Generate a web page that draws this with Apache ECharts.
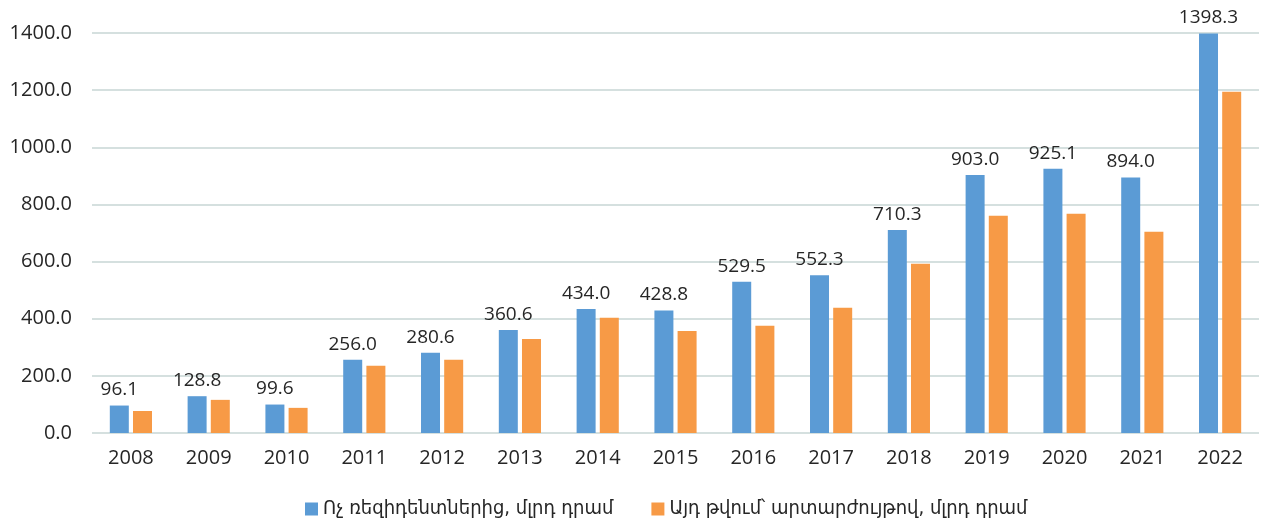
<!DOCTYPE html>
<html>
<head>
<meta charset="utf-8">
<script src="https://cdn.jsdelivr.net/npm/echarts@6/dist/echarts.min.js"></script>
<style>
    html, body { margin: 0; padding: 0; background: #fff; }
    #main { width: 1284px; height: 527px; }
</style>
</head>
<body>
<div id="main"></div>
<script>
    // տարիներ
    var years = ['2008', '2009', '2010', '2011', '2012', '2013', '2014', '2015',
                 '2016', '2017', '2018', '2019', '2020', '2021', '2022'];
    // Ոչ ռեզիդենտներից, մլրդ դրամ
    var nonResidents = [96.1, 128.8, 99.6, 256.0, 280.6, 360.6, 434.0, 428.8,
                        529.5, 552.3, 710.3, 903.0, 925.1, 894.0, 1398.3];
    // Այդ թվում՝ արտարժույթով (աչքով գնահատված)
    var foreignCurrency = [77, 116, 88, 235, 256, 329, 403, 357,
                           375, 438, 592, 760, 767, 704, 1194];

    var fontMain = "'Open Sans', 'DejaVu Sans Condensed', 'DejaVu Sans', sans-serif";

    var myChart = echarts.init(document.getElementById('main'));
    var option = {
        animation: false,
        backgroundColor: '#fff',
        textStyle: { fontFamily: fontMain, color: '#262626' },
        grid: {
            left: 92,
            right: 25,
            top: 33,
            bottom: 94
        },
        legend: {
            bottom: 3,
            left: 300,
            itemWidth: 13,
            itemHeight: 13,
            itemGap: 38,
            icon: 'rect',
            textStyle: { fontSize: 20, color: '#262626', fontFamily: "'DejaVu Sans Condensed', 'DejaVu Sans', sans-serif" },
            data: ['Ոչ ռեզիդենտներից, մլրդ դրամ', 'Այդ թվում՝ արտարժույթով, մլրդ դրամ']
        },
        xAxis: {
            type: 'category',
            data: years,
            axisLine: { show: false },
            axisTick: { show: false },
            axisLabel: { fontSize: 20, color: '#262626', margin: 15 }
        },
        yAxis: {
            type: 'value',
            min: 0,
            max: 1400,
            interval: 200,
            axisLabel: {
                fontSize: 20,
                color: '#262626',
                margin: 20,
                formatter: function (v) { return v.toFixed(1); }
            },
            splitLine: { lineStyle: { color: '#d5e0df', width: 2 } }
        },
        series: [
            {
                name: 'Ոչ ռեզիդենտներից, մլրդ դրամ',
                type: 'bar',
                data: nonResidents,
                barWidth: 19,
                barGap: '22%',
                itemStyle: { color: '#5b9bd5' },
                label: {
                    show: true,
                    position: 'top',
                    distance: 6,
                    fontSize: 19,
                    color: '#262626',
                    formatter: function (p) { return p.value.toFixed(1); }
                }
            },
            {
                name: 'Այդ թվում՝ արտարժույթով, մլրդ դրամ',
                type: 'bar',
                data: foreignCurrency,
                barWidth: 19,
                itemStyle: { color: '#f79a46' }
            }
        ]
    };
    myChart.setOption(option);
</script>
</body>
</html>
